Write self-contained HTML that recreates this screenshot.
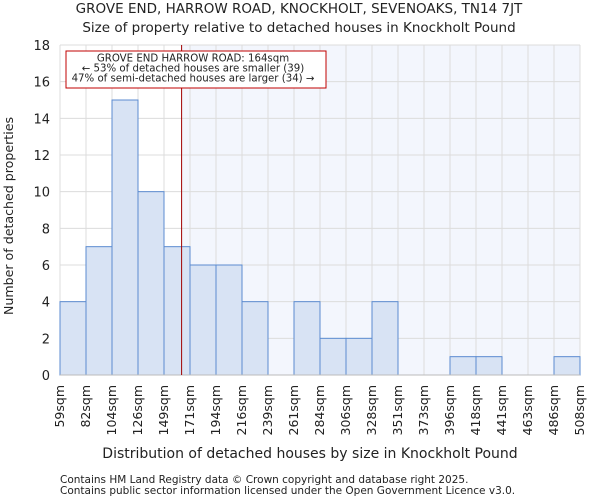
<!DOCTYPE html>
<html><head><meta charset="utf-8"><style>
body{margin:0;background:#fff;font-family:"DejaVu Sans","Liberation Sans",sans-serif;}
svg text{font-family:"DejaVu Sans","Liberation Sans",sans-serif;fill:#222;}
</style></head><body>
<svg id="chart" width="600" height="500" xmlns="http://www.w3.org/2000/svg">
<text x="299" y="13" font-size="13.5" text-anchor="middle">GROVE END, HARROW ROAD, KNOCKHOLT, SEVENOAKS, TN14 7JT</text>
<text x="299" y="32" font-size="13.5" text-anchor="middle">Size of property relative to detached houses in Knockholt Pound</text>
<g id="plot"></g>
<text transform="translate(13,216) rotate(-90)" font-size="12.6" text-anchor="middle">Number of detached properties</text>
<text x="310" y="458" font-size="14" text-anchor="middle">Distribution of detached houses by size in Knockholt Pound</text>
<text x="60" y="483" font-size="10.5">Contains HM Land Registry data © Crown copyright and database right 2025.</text>
<text x="60" y="494" font-size="10.5">Contains public sector information licensed under the Open Government Licence v3.0.</text>
</svg>
<script>
const binLabels=["59sqm","82sqm","104sqm","126sqm","149sqm","171sqm","194sqm","216sqm","239sqm","261sqm","284sqm","306sqm","328sqm","351sqm","373sqm","396sqm","418sqm","441sqm","463sqm","486sqm","508sqm"];
const counts=[4,7,15,10,7,6,6,4,0,4,2,2,4,0,0,1,1,0,0,1];
const yTicks=[0,2,4,6,8,10,12,14,16,18];
const subjectSize=164;
const minSize=59, maxSize=508;
const L=60,R=580,T=45,B=375,yMax=18;
const NS="http://www.w3.org/2000/svg";
const g=document.getElementById('plot');
const xBin=i=>L+i*(R-L)/counts.length;
const xVal=v=>L+(v-minSize)/(maxSize-minSize)*(R-L);
const y=v=>B-v/yMax*(B-T);
function mk(t,a){const e=document.createElementNS(NS,t);for(const k in a)e.setAttribute(k,a[k]);g.appendChild(e);return e;}
const sx=xVal(subjectSize);
let e=mk('rect',{x:sx,y:T,width:R-sx,height:B-T,fill:'#f3f6fd'});


yTicks.forEach(t=>{let l=mk('line',{x1:L,x2:R,y1:y(t),y2:y(t),stroke:'#dcdcdc','stroke-width':1});


let tx=mk('text',{x:L-10,y:y(t)+5,'font-size':13,'text-anchor':'end'});tx.textContent=t;

});
binLabels.forEach((b,i)=>{const x=xBin(i);
let l=mk('line',{x1:x,x2:x,y1:T,y2:B,stroke:'#dcdcdc','stroke-width':1});


let tx=mk('text',{transform:`translate(${x+4},385) rotate(-90)`,'font-size':12.5,'text-anchor':'end'});tx.textContent=b;

});
counts.forEach((c,i)=>{if(c<=0)return;const r=mk('rect',{x:xBin(i),y:y(c),width:xBin(i+1)-xBin(i),height:B-y(c),fill:'#d8e3f4',stroke:'#5b8bd0','stroke-width':1});

});
let ax=mk('line',{x1:L,x2:R,y1:B,y2:B,stroke:'#bbb'});


let rl=mk('line',{x1:sx,x2:sx,y1:T,y2:B,stroke:'#a00000','stroke-width':1});


let box=mk('rect',{x:66,y:51,width:260,height:37,fill:'#fff',stroke:'#c00000','stroke-width':1});


["GROVE END HARROW ROAD: 164sqm","← 53% of detached houses are smaller (39)","47% of semi-detached houses are larger (34) →"].forEach((s,i)=>{
let t=mk('text',{x:193,y:61.5+i*10,'font-size':10.2,'text-anchor':'middle'});t.textContent=s;

});
</script>
</body></html>
